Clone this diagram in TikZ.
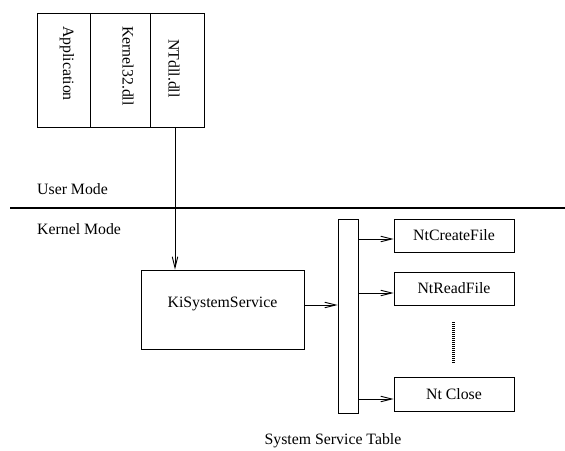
\documentclass[tikz,border=0pt]{standalone}
\usepackage{fontspec}
\setmainfont{Liberation Serif}
\usetikzlibrary{arrows.meta}
\begin{document}
\begin{tikzpicture}[x=1pt,y=-1pt,
  every node/.style={font=\fontsize{15.8}{19}\selectfont, inner sep=0pt},
  box/.style={draw, line width=0.9pt, minimum width=#1},
  txt/.style={text=black},
  arr/.style={draw, line width=0.9pt, -{Straight Barb[length=11pt,width=5.5pt]}}]
\useasboundingbox (0,0) rectangle (565,450);
% user-mode stack
\node[box=53pt, minimum height=114pt] (app) at (63.5,70) {};
\node[box=60pt, minimum height=114pt] (k32) at (120,70) {};
\node[box=54pt, minimum height=114pt] (ntdll) at (177,70) {};
\node[rotate=-90] (tapp) at (67,63.5) {Application};
\node[rotate=-90] (tk32) at (128,66) {Kernel32.dll};
\node[rotate=-90] (tnt) at (174,68.5) {NTdll.dll};
% separator
\coordinate (sepl) at (10,208);
\coordinate (sepr) at (565,208);
\draw[line width=2.5pt] (sepl) -- (sepr);
\node[anchor=west] (um) at (37,189) {User Mode};
\node[anchor=west] (km) at (37,229) {Kernel Mode};
% kernel
\node[box=163pt, minimum height=79pt] (ki) at (222.5,309.5) {};
\node (kit) at (222.5,304) {KiSystemService};
\node[box=20pt, minimum height=194pt] (bar) at (348,316) {};
\node[box=120pt, minimum height=33pt] (ncf) at (454,235.5) {NtCreateFile};
\node[box=120pt, minimum height=33pt] (nrf) at (454,288.5) {NtReadFile};
\node[box=120pt, minimum height=34pt] (ncl) at (454,394) {Nt Close};
\node (sst) at (333,441) {System Service Table};
% dotted ellipsis
\coordinate (d1) at (453,322);
\coordinate (d2) at (453,364);
\draw[line width=3pt, dash pattern=on 1pt off 1pt] (d1) -- (d2);
% connectors
\draw[arr] ([xshift=-2pt]ntdll.south) -- ([xshift=-2pt]ntdll.south |- ki.north);
\draw[arr] (ki.east |- 0,305) -- (bar.west |- 0,305);
\draw[arr] (bar.east |- 0,239) -- (ncf.west |- 0,239);
\draw[arr] (bar.east |- 0,293) -- (nrf.west |- 0,293);
\draw[arr] (bar.east |- 0,399) -- (ncl.west |- 0,399);
\end{tikzpicture}
\end{document}
